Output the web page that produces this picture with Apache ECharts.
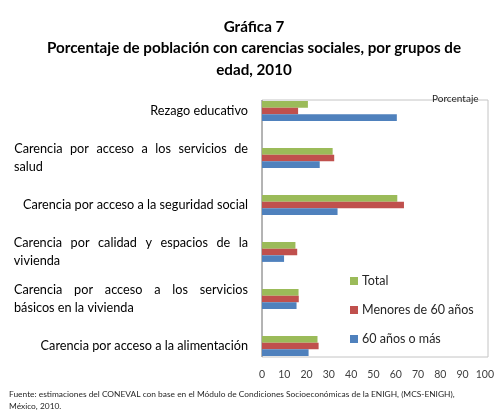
<!DOCTYPE html>
<html>
<head>
<meta charset="utf-8">
<script src="https://cdn.jsdelivr.net/npm/echarts@6/dist/echarts.min.js"></script>
<style>
  html, body { margin: 0; padding: 0; background: #fff; }
  #main { width: 497px; height: 414px; }
</style>
</head>
<body>
<div id="main"></div>
<script>
// datos
var categorias = [
  'Rezago educativo',
  'Carencia por acceso a los servicios de\nsalud',
  'Carencia por acceso a la seguridad social',
  'Carencia por calidad y espacios de la\nvivienda',
  'Carencia por acceso a los servicios\nbásicos en la vivienda',
  'Carencia por acceso a la alimentación'
];
var total = [20.6, 31.7, 60.7, 15.0, 16.4, 24.9];
var menores60 = [16.2, 32.4, 63.7, 15.8, 16.5, 25.4];
var mayores60 = [60.5, 25.9, 33.9, 9.9, 15.5, 20.9];
var ticks = [0, 10, 20, 30, 40, 50, 60, 70, 80, 90, 100];

var fuente = 'Lato';
var tamLabel = 12.7;
var anchoLabel = 234;

// texto justificado como en Excel: se mide cada palabra y se reparte el espacio
var ctx = document.createElement('canvas').getContext('2d');
ctx.font = tamLabel + 'px ' + fuente;
function justificar(linea) {
  var palabras = linea.split(' ');
  var suma = 0;
  palabras.forEach(function (p) { suma += ctx.measureText(p).width; });
  var hueco = Math.max(3, (anchoLabel - suma) / (palabras.length - 1));
  return palabras.map(function (p, k) {
    return '{l|' + p + '}' + (k < palabras.length - 1 ? '{g|}' : '');
  }).join('').replace(/\{g\|\}/g, '{g' + Math.round(hueco * 10) + '|}');
}
var richLabel = {
  l: { fontFamily: fuente, fontSize: tamLabel, color: '#000', lineHeight: 18 },
  r: { fontFamily: fuente, fontSize: tamLabel, color: '#000', lineHeight: 18 },
  u: { width: anchoLabel, align: 'left', fontFamily: fuente, fontSize: tamLabel, color: '#000', lineHeight: 18 }
};
var labelData = categorias.map(function (c) {
  if (c.indexOf('\n') < 0) return '{r|' + c + '}';
  var lineas = c.split('\n');
  var primera = justificar(lineas[0]);
  var m = primera.match(/\{g(\d+)\|\}/);
  if (m) richLabel['g' + m[1]] = { width: +m[1] / 10, fontSize: tamLabel, lineHeight: 18 };
  return primera + '\n{u|' + lineas[1] + '}';
});

var myChart = echarts.init(document.getElementById('main'));

myChart.setOption({
  animation: false,
  title: [
    {
      text: 'Gráfica 7\nPorcentaje de población con carencias sociales, por grupos de\nedad, 2010',
      left: 249,
      top: 11,
      textAlign: 'center',
      textStyle: { fontFamily: fuente, fontSize: 15.2, fontWeight: 'bold', color: '#000', lineHeight: 21.5 }
    },
    {
      text: 'Porcentaje',
      left: 427,
      top: 89,
      textStyle: { fontFamily: fuente, fontSize: 10, fontWeight: 'normal', color: '#262626' }
    },
    {
      text: 'Fuente: estimaciones del CONEVAL con base en el Módulo de Condiciones Socioeconómicas de la ENIGH, (MCS-ENIGH),\nMéxico, 2010.',
      left: 4,
      top: 383,
      textStyle: { fontFamily: fuente, fontSize: 8.4, fontWeight: 'normal', color: '#262626', lineHeight: 12 }
    }
  ],
  legend: {
    orient: 'vertical',
    left: 350,
    top: 274.5,
    padding: 0,
    itemWidth: 8,
    itemHeight: 8,
    itemGap: 16,
    icon: 'rect',
    data: ['Total', 'Menores de 60 años', '60 años o más'],
    textStyle: { fontFamily: fuente, fontSize: 12.5, color: '#262626', padding: [0, 0, 0, -1] }
  },
  grid: { left: 262, right: 9, top: 87.5, height: 282 },
  xAxis: {
    type: 'value',
    min: 0,
    max: 100,
    interval: 10,
    axisLine: { show: false },
    axisTick: { show: false },
    splitLine: { show: false },
    axisLabel: {
      margin: 0,
      fontFamily: fuente,
      fontSize: 10.5,
      color: '#404040',
      customValues: ticks
    }
  },
  yAxis: {
    type: 'category',
    inverse: true,
    data: categorias,
    axisLine: { show: false },
    axisTick: { show: false },
    axisLabel: {
      margin: 14,
      formatter: function (v, i) { return labelData[i]; },
      rich: richLabel
    }
  },
  graphic: [
    { type: 'rect', shape: { x: 262, y: 100, width: 226, height: 257 }, style: { fill: 'none', stroke: '#c4c4c4', lineWidth: 1 }, z: 0 },
    { type: 'line', shape: { x1: 262, y1: 100, x2: 262, y2: 357 }, style: { stroke: '#868686', lineWidth: 1 }, z: 0 }
  ],
  series: [
    { name: 'Total', type: 'bar', data: total, barWidth: 6.6, barGap: '0%', itemStyle: { color: '#9BBB59' } },
    { name: 'Menores de 60 años', type: 'bar', data: menores60, barWidth: 6.6, barGap: '0%', itemStyle: { color: '#C0504D' } },
    { name: '60 años o más', type: 'bar', data: mayores60, barWidth: 6.6, barGap: '0%', itemStyle: { color: '#4F81BD' } }
  ]
});
</script>
</body>
</html>
